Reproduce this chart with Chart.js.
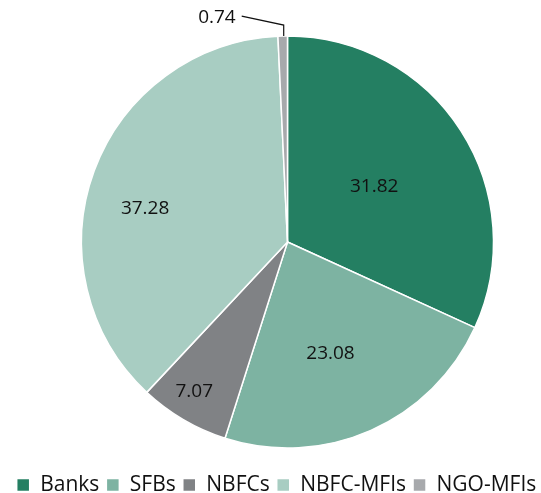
<!DOCTYPE html>
<html>
<head>
<meta charset="utf-8">
<script src="https://cdn.jsdelivr.net/npm/chart.js@4.4.1/dist/chart.umd.min.js"></script>
<style>
  html, body { margin: 0; padding: 0; background: #fff; }
  #wrap { width: 541px; height: 493px; position: relative; }
</style>
</head>
<body>
<div id="wrap"><canvas id="pie"></canvas></div>
<script>
  // share of portfolio, %
  const LABELS = ['Banks', 'SFBs', 'NBFCs', 'NBFC-MFIs', 'NGO-MFIs'];
  const SHARE = [31.82, 23.08, 7.07, 37.28, 0.74];
  const COLORS = ['#247f62', '#7db3a2', '#808285', '#a8cdc2', '#a7a9ac'];

  // value label placement: fraction of radius (null = outside with leader), and nudge in degrees
  const LABEL_R = [0.5, 0.58, 0.855, 0.71, null];
  const LABEL_NUDGE = [0, 2.8, 1.6, -7, 0];

  const FONT = "'Open Sans', 'Noto Sans', sans-serif";
  const PIE_SHIFT_X = 14; // pie sits a little right of the legend centre

  const shiftPie = {
    id: 'shiftPie',
    afterDatasetsUpdate(chart) {
      chart.getDatasetMeta(0).data.forEach(arc => { arc.x += PIE_SHIFT_X; });
    }
  };

  const valueLabels = {
    id: 'valueLabels',
    afterDatasetsDraw(chart) {
      const ctx = chart.ctx;
      const arcs = chart.getDatasetMeta(0).data;
      ctx.save();
      ctx.font = '19px ' + FONT;
      ctx.fillStyle = '#111';
      ctx.textBaseline = 'middle';
      arcs.forEach((arc, i) => {
        const a = (arc.startAngle + arc.endAngle) / 2 + LABEL_NUDGE[i] * Math.PI / 180;
        const txt = SHARE[i].toFixed(2);
        if (LABEL_R[i] != null) {
          const r = arc.outerRadius * LABEL_R[i];
          ctx.textAlign = 'center';
          ctx.fillText(txt, arc.x + r * Math.cos(a), arc.y + r * Math.sin(a));
        } else {
          // small slice: leader line going up then left
          const x0 = arc.x + arc.outerRadius * Math.cos(a);
          const y0 = arc.y + arc.outerRadius * Math.sin(a);
          const x1 = x0 + 1, y1 = y0 - 11;
          const x2 = x1 - 42, y2 = y1 - 9;
          ctx.strokeStyle = '#111';
          ctx.lineWidth = 1.2;
          ctx.beginPath();
          ctx.moveTo(x0 + 1, y0);
          ctx.lineTo(x1, y1);
          ctx.lineTo(x2, y2);
          ctx.stroke();
          ctx.textAlign = 'right';
          ctx.fillText(txt, x2 - 6, y2 + 2);
        }
      });
      ctx.restore();
    }
  };

  new Chart(document.getElementById('pie'), {
    type: 'pie',
    data: {
      labels: LABELS,
      datasets: [{
        data: SHARE,
        backgroundColor: COLORS,
        borderColor: '#ffffff',
        borderWidth: 1.5
      }]
    },
    options: {
      responsive: true,
      maintainAspectRatio: false,
      animation: false,
      radius: 206,
      layout: { padding: { top: 16.5, bottom: -12.5, left: 6, right: -6 } },
      plugins: {
        tooltip: { enabled: false },
        legend: {
          position: 'bottom',
          labels: {
            boxWidth: 13,
            boxHeight: 13,
            padding: 7,
            color: '#111',
            font: { family: FONT, size: 21 }
          }
        }
      }
    },
    plugins: [shiftPie, valueLabels]
  });
</script>
</body>
</html>
